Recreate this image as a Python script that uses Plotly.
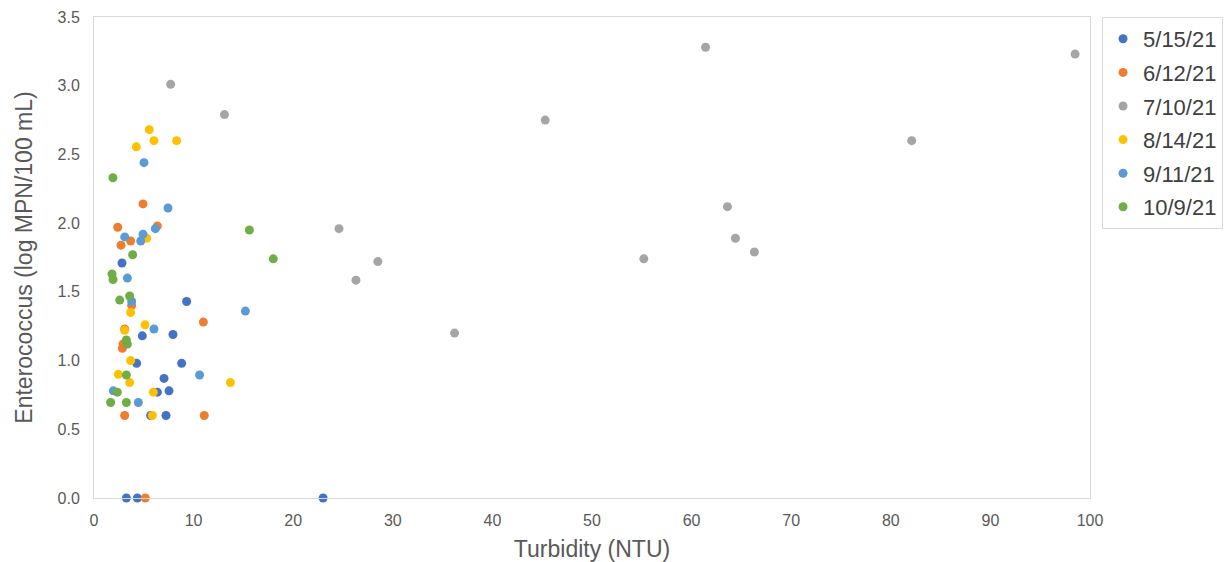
import plotly.graph_objects as go

series_names = ["5/15/21", "6/12/21", "7/10/21", "8/14/21", "9/11/21", "10/9/21"]
colors = ["#4472C4", "#ED7D31", "#A5A5A5", "#FFC000", "#5B9BD5", "#70AD47"]

x_0515 = [2.81, 9.3, 4.85, 7.93, 4.28, 8.8, 7.03, 6.36, 7.53, 5.69, 7.23, 3.25, 4.35, 23.0]
y_0515 = [1.71, 1.43, 1.18, 1.19, 0.98, 0.98, 0.87, 0.77, 0.78, 0.60, 0.60, 0.0, 0.0, 0.0]

x_0612 = [4.92, 2.38, 6.36, 3.68, 2.71, 3.78, 10.98, 3.08, 2.91, 2.85, 3.08, 11.07, 5.15]
y_0612 = [2.14, 1.97, 1.98, 1.87, 1.84, 1.40, 1.28, 1.23, 1.12, 1.09, 0.60, 0.60, 0.0]

x_0710 = [7.7, 13.1, 24.6, 26.3, 28.5, 36.2, 45.3, 55.2, 61.4, 63.6, 64.4, 66.3, 82.1, 98.5]
y_0710 = [3.01, 2.79, 1.96, 1.585, 1.72, 1.20, 2.75, 1.74, 3.28, 2.12, 1.89, 1.79, 2.60, 3.23]

x_0814 = [5.55, 6.02, 8.3, 4.25, 5.29, 3.68, 5.12, 3.08, 3.68, 2.44, 3.58, 13.7, 5.96, 5.86]
y_0814 = [2.68, 2.60, 2.60, 2.555, 1.89, 1.35, 1.26, 1.22, 1.00, 0.90, 0.84, 0.84, 0.77, 0.60]

x_0911 = [5.02, 7.43, 6.16, 3.08, 4.92, 4.69, 3.35, 3.78, 15.2, 6.02, 10.6, 1.94, 4.45]
y_0911 = [2.44, 2.11, 1.96, 1.90, 1.92, 1.87, 1.60, 1.43, 1.36, 1.23, 0.895, 0.78, 0.695]

x_1009 = [1.9, 15.6, 18.0, 3.88, 1.81, 1.91, 3.58, 2.58, 3.25, 3.35, 3.25, 2.34, 1.67, 3.25]
y_1009 = [2.33, 1.95, 1.74, 1.77, 1.63, 1.59, 1.47, 1.44, 1.15, 1.12, 0.895, 0.77, 0.695, 0.695]

xs = [x_0515, x_0612, x_0710, x_0814, x_0911, x_1009]
ys = [y_0515, y_0612, y_0710, y_0814, y_0911, y_1009]

fig = go.Figure()
for name, c, xv, yv in zip(series_names, colors, xs, ys):
    fig.add_trace(go.Scatter(
        x=xv, y=yv, mode="markers", name=name, legendgroup=name,
        marker=dict(color=c, size=9, line=dict(width=0)),
        cliponaxis=False,
    ))

font_family = "Liberation Sans, Arial, sans-serif"
fig.update_layout(
    width=1227, height=562,
    margin=dict(l=94, r=0, t=17, b=64, autoexpand=False),
    paper_bgcolor="white", plot_bgcolor="white",
    font=dict(family=font_family, color="#595959"),
    showlegend=True,
    legend=dict(
        x=0.8897, y=1.0, xanchor="left", yanchor="top",
        bordercolor="#D9D9D9", borderwidth=1,
        font=dict(size=22, color="#404040"),
        tracegroupgap=2,
        itemwidth=30,
    ),
    xaxis=dict(
        domain=[0, 0.8791],
        range=[0, 100], dtick=10, tick0=0,
        showgrid=False, zeroline=False,
        showline=True, linecolor="#D9D9D9", linewidth=1, mirror=True,
        ticks="", tickfont=dict(size=16, color="#595959"),
        ticklabelstandoff=8, automargin=False,
        title=dict(text="Turbidity (NTU)", font=dict(size=23, color="#595959"), standoff=14),
    ),
    yaxis=dict(
        range=[0, 3.5], dtick=0.5, tick0=0, tickformat=".1f",
        showgrid=False, zeroline=False,
        showline=True, linecolor="#D9D9D9", linewidth=1, mirror=True,
        ticks="", tickfont=dict(size=16, color="#595959"),
        ticklabelstandoff=10, automargin=False,
        title=dict(text="Enterococcus (log MPN/100 mL)", font=dict(size=23, color="#595959"), standoff=18),
    ),
)

fig.write_html("out.html")
